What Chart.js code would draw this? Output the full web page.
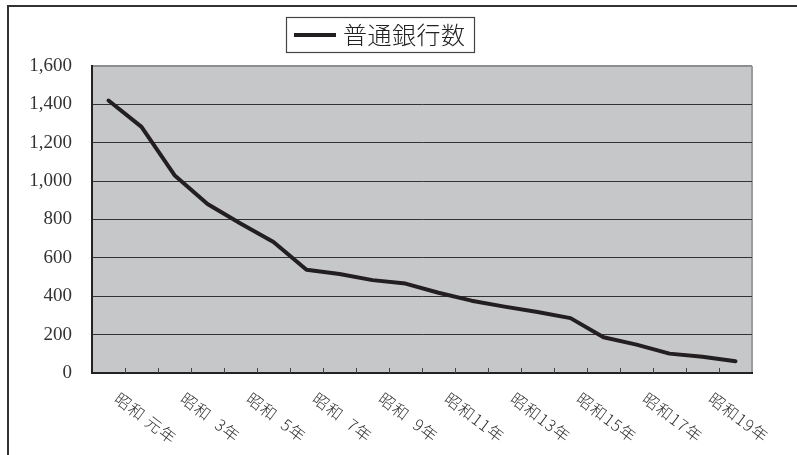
<!DOCTYPE html>
<html lang="ja">
<head>
<meta charset="utf-8">
<title>普通銀行数</title>
<script src="https://cdn.jsdelivr.net/npm/chart.js@4/dist/chart.umd.min.js"></script>
<style>
  html, body { margin: 0; padding: 0; background: #fff; }
  canvas { display: block; }
</style>
</head>
<body>
<canvas id="chart" width="797" height="455"></canvas>
<script>
// 昭和元年〜昭和20年の普通銀行数
const years = ['昭和元年','昭和2年','昭和3年','昭和4年','昭和5年','昭和6年','昭和7年','昭和8年','昭和9年','昭和10年',
               '昭和11年','昭和12年','昭和13年','昭和14年','昭和15年','昭和16年','昭和17年','昭和18年','昭和19年','昭和20年'];
const bankCounts = [1420, 1283, 1031, 881, 779, 683, 538, 516, 484, 466,
                    418, 377, 346, 318, 286, 186, 148, 101, 85, 61];
// x軸に表示する目盛ラベル（1年おき）
const tickLabels = ['昭和 元年','昭和  3年','昭和  5年','昭和  7年','昭和  9年','昭和11年','昭和13年','昭和15年','昭和17年','昭和19年'];
const yTicks = [0, 200, 400, 600, 800, 1000, 1200, 1400, 1600];

const seriesName = '普通銀行数';
const lineColor = '#231f20';
const jpFont = '"Noto Sans CJK JP", sans-serif';

const decorations = {
  id: 'decorations',
  beforeDraw(chart) {
    const {ctx, chartArea: a} = chart;
    ctx.save();
    ctx.fillStyle = '#fff';
    ctx.fillRect(0, 0, chart.width, chart.height);
    // 外枠
    ctx.strokeStyle = '#333';
    ctx.lineWidth = 2;
    ctx.beginPath();
    ctx.moveTo(8, chart.height);
    ctx.lineTo(8, 6);
    ctx.lineTo(chart.width, 6);
    ctx.stroke();
    // プロットエリア背景
    ctx.fillStyle = '#c6c7c9';
    ctx.fillRect(a.left, a.top, a.right - a.left, a.bottom - a.top);
    // 右側の枠線
    ctx.strokeStyle = '#9c9c9c';
    ctx.lineWidth = 2;
    ctx.beginPath();
    ctx.moveTo(a.right, a.top);
    ctx.lineTo(a.right, a.bottom);
    ctx.stroke();
    ctx.restore();
  },
  afterDraw(chart) {
    const {ctx, chartArea: a} = chart;
    const x = chart.scales.x;
    ctx.save();
    // 区切り目盛（内向き）
    ctx.strokeStyle = '#444';
    ctx.lineWidth = 1;
    ctx.beginPath();
    for (let i = 1; i < years.length; i++) {
      const px = Math.round((x.getPixelForValue(i - 1) + x.getPixelForValue(i)) / 2) + 0.5;
      ctx.moveTo(px, a.bottom);
      ctx.lineTo(px, a.bottom - 5);
    }
    ctx.stroke();

    // 斜めの目盛ラベル
    ctx.fillStyle = '#333';
    ctx.font = '300 16px ' + jpFont;
    ctx.letterSpacing = '1px';
    ctx.textAlign = 'left';
    ctx.textBaseline = 'top';
    tickLabels.forEach((label, k) => {
      const px = x.getPixelForValue(k * 2);
      ctx.save();
      ctx.translate(px + 13, a.bottom + 17);
      ctx.rotate(37 * Math.PI / 180);
      ctx.fillText(label, 0, 0);
      ctx.restore();
    });
    ctx.letterSpacing = '0px';

    // 凡例
    const ds = chart.data.datasets[0];
    ctx.strokeStyle = '#444';
    ctx.lineWidth = 1.2;
    ctx.strokeRect(286.5, 17.5, 188, 35);
    ctx.strokeStyle = ds.borderColor;
    ctx.lineWidth = 4;
    ctx.beginPath();
    ctx.moveTo(294, 35);
    ctx.lineTo(336, 35);
    ctx.stroke();
    ctx.fillStyle = '#222';
    ctx.font = '300 24px ' + jpFont;
    ctx.letterSpacing = '0.5px';
    ctx.textBaseline = 'middle';
    ctx.fillText(ds.label, 343, 35);
    ctx.restore();
  }
};

new Chart(document.getElementById('chart'), {
  type: 'line',
  data: {
    labels: years,
    datasets: [{
      label: seriesName,
      data: bankCounts,
      borderColor: lineColor,
      backgroundColor: lineColor,
      borderWidth: 4,
      pointRadius: 0,
      tension: 0,
      borderJoinStyle: 'round',
      borderCapStyle: 'round'
    }]
  },
  options: {
    responsive: false,
    animation: false,
    layout: { padding: { left: 8, right: 45, top: 66, bottom: 0 } },
    plugins: {
      legend: { display: false },
      tooltip: { enabled: false }
    },
    scales: {
      x: {
        type: 'category',
        offset: true,
        grid: { display: false },
        border: { display: true, color: '#222', width: 2 },
        ticks: { display: false },
        afterFit(scale) { scale.height = 82; }
      },
      y: {
        min: 0,
        max: 1600,
        afterBuildTicks(scale) { scale.ticks = yTicks.map(v => ({ value: v })); },
        grid: {
          drawTicks: false,
          color: ctx => (ctx.tick && ctx.tick.value === 1600) ? '#8e8e8e' : '#333',
          lineWidth: ctx => (ctx.tick && ctx.tick.value === 1600) ? 2 : 1
        },
        border: { display: true, color: '#222', width: 2 },
        ticks: {
          padding: 20,
          color: '#333',
          font: { family: '"Liberation Serif", serif', size: 19 },
          callback: v => v.toLocaleString('en-US')
        },
        afterFit(scale) { scale.width = 84; }
      }
    }
  },
  plugins: [decorations]
});
</script>
</body>
</html>
